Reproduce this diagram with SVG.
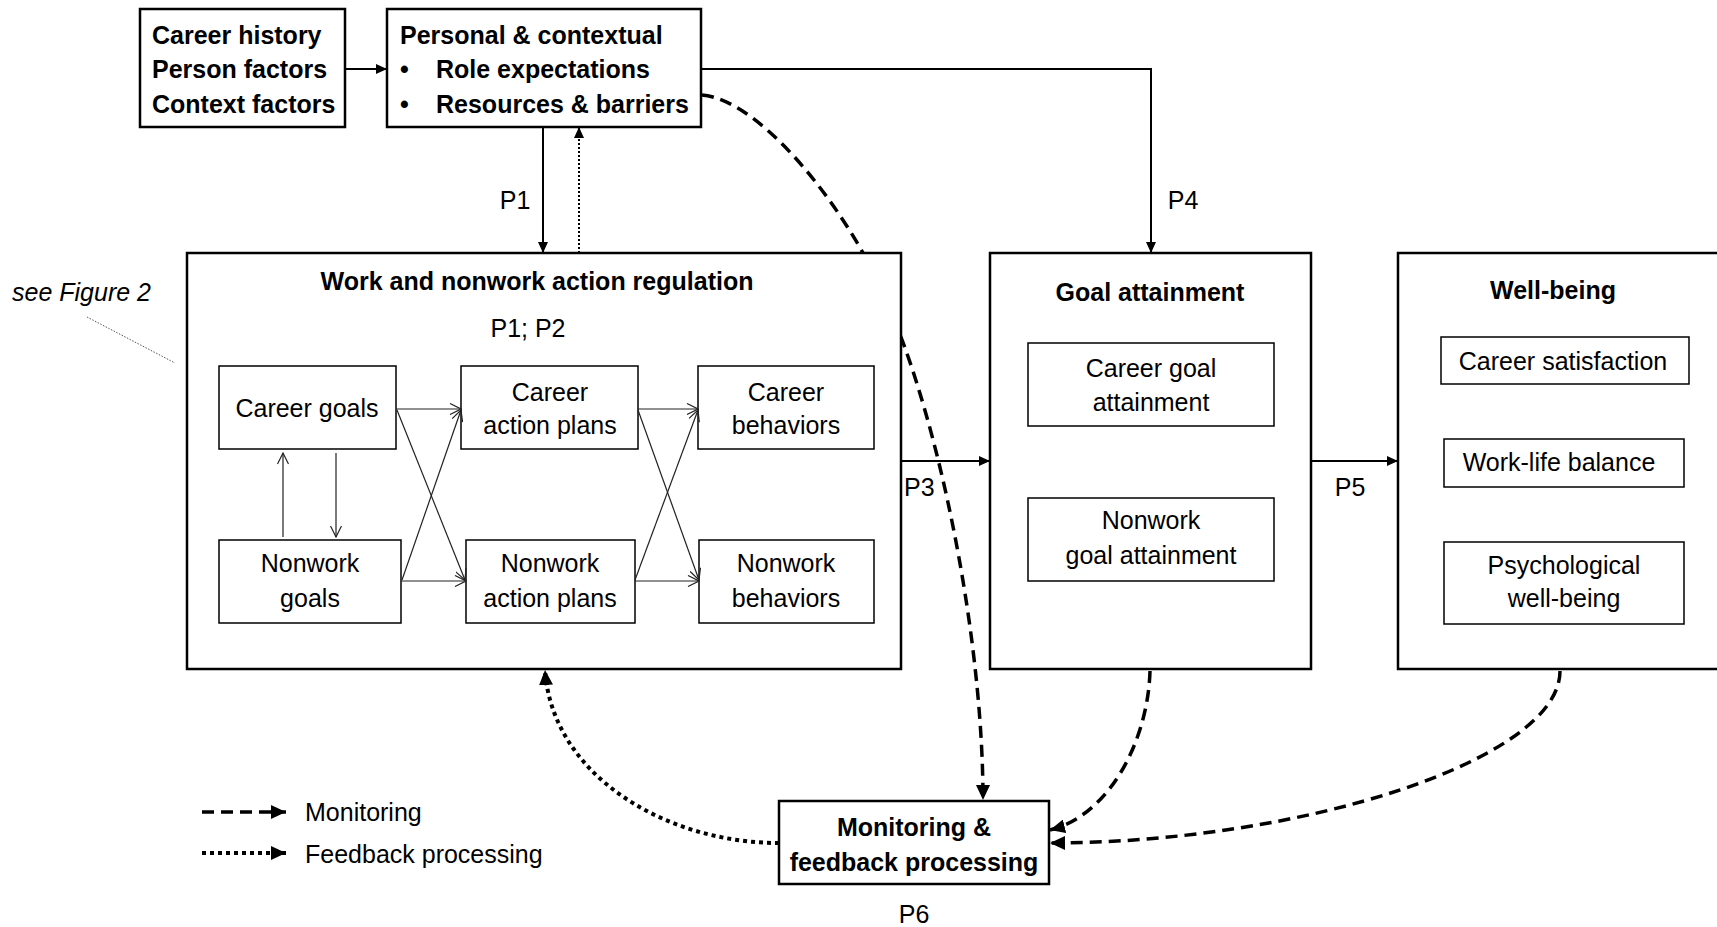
<svg xmlns="http://www.w3.org/2000/svg" width="1717" height="927" viewBox="0 0 1717 927">
<defs>
<style>
text{font-family:"Liberation Sans",Arial,sans-serif;font-size:25px;fill:#000}
.b{font-weight:bold}
.m{text-anchor:middle}
.box{fill:#fff;stroke:#000;stroke-width:2.5}
.in{fill:#fff;stroke:#000;stroke-width:1.5}
.c{fill:none;stroke:#000;stroke-width:2}
.t{fill:none;stroke:#222;stroke-width:1.2}
.dash{fill:none;stroke:#000;stroke-width:3.5;stroke-dasharray:12 7}
.dot{fill:none;stroke:#000;stroke-width:4;stroke-dasharray:4 4}
</style>
<marker id="ah" markerUnits="userSpaceOnUse" markerWidth="12" markerHeight="10" refX="11" refY="5" orient="auto"><path d="M0,0 L11,5 L0,10 z" fill="#000"/></marker>
<marker id="ahb" markerUnits="userSpaceOnUse" markerWidth="16" markerHeight="14" refX="15" refY="7" orient="auto"><path d="M0,0 L15,7 L0,14 z" fill="#000"/></marker>
<marker id="ov" markerUnits="userSpaceOnUse" markerWidth="13" markerHeight="12" refX="12" refY="6" orient="auto"><path d="M1,0.5 L12,6 L1,11.5" fill="none" stroke="#222" stroke-width="1.2"/></marker>
</defs>
<rect width="1717" height="927" fill="#fff"/>
<g id="connectors">
<path class="dash" d="M702,95 C765,100 865,228 901,337 C946,457 983,650 983,800" marker-end="url(#ahb)"/>
<path class="c" d="M345,69 L387,69" marker-end="url(#ah)"/>
<path class="c" d="M701,69 L1151,69 L1151,253" marker-end="url(#ah)"/>
<path class="c" d="M543,127 L543,253" marker-end="url(#ah)"/>
<path fill="none" stroke="#000" stroke-width="2" stroke-dasharray="2 2" d="M579,253 L579,127" marker-end="url(#ah)"/>
<path class="c" d="M901,461 L990,461" marker-end="url(#ah)"/>
<path class="c" d="M1311,461 L1398,461" marker-end="url(#ah)"/>
<path class="dash" d="M1150,671 C1148,740 1110,815 1050,830" marker-end="url(#ahb)"/>
<path class="dash" d="M1560,671 C1560,760 1300,843 1050,843" marker-end="url(#ahb)"/>
<path class="dot" d="M779,843 C665,843 552,775 545,670" marker-end="url(#ahb)"/>
<path fill="none" stroke="#555" stroke-width="1" stroke-dasharray="1.5 1.5" d="M87,317 L175,363"/>
</g>
<g id="history">
<rect class="box" x="140" y="9" width="205" height="118"/>
<text class="b" x="152" y="44">Career history</text>
<text class="b" x="152" y="78">Person factors</text>
<text class="b" x="152" y="113">Context factors</text>
</g>
<g id="personal">
<rect class="box" x="387" y="9" width="314" height="118"/>
<text class="b" x="400" y="44">Personal &amp; contextual</text>
<text class="b" x="400" y="78">•</text>
<text class="b" x="436" y="78">Role expectations</text>
<text class="b" x="400" y="113">•</text>
<text class="b" x="436" y="113">Resources &amp; barriers</text>
</g>
<g id="labels">
<text x="515" y="209" class="m">P1</text>
<text x="1183" y="209" class="m">P4</text>
<text x="904" y="496">P3</text>
<text x="1350" y="496" class="m">P5</text>
<text x="914" y="923" class="m">P6</text>
<text x="12" y="301" font-style="italic">see Figure 2</text>
</g>
<g id="regulation">
<rect class="box" x="187" y="253" width="714" height="416"/>
<text class="b m" x="537" y="290">Work and nonwork action regulation</text>
<text class="m" x="528" y="337">P1; P2</text>
<g id="career-goals"><rect class="in" x="219" y="366" width="177" height="83"/><text class="m" x="307" y="417">Career goals</text></g>
<g id="career-plans"><rect class="in" x="461" y="366" width="177" height="83"/><text class="m" x="550" y="401">Career</text><text class="m" x="550" y="434">action plans</text></g>
<g id="career-behaviors"><rect class="in" x="698" y="366" width="176" height="83"/><text class="m" x="786" y="401">Career</text><text class="m" x="786" y="434">behaviors</text></g>
<g id="nonwork-goals"><rect class="in" x="219" y="540" width="182" height="83"/><text class="m" x="310" y="572">Nonwork</text><text class="m" x="310" y="607">goals</text></g>
<g id="nonwork-plans"><rect class="in" x="466" y="540" width="169" height="83"/><text class="m" x="550" y="572">Nonwork</text><text class="m" x="550" y="607">action plans</text></g>
<g id="nonwork-behaviors"><rect class="in" x="699" y="540" width="175" height="83"/><text class="m" x="786" y="572">Nonwork</text><text class="m" x="786" y="607">behaviors</text></g>
<g id="inner-connectors">
<path class="t" d="M396,409 L461,409" marker-end="url(#ov)"/>
<path class="t" d="M401,581 L466,581" marker-end="url(#ov)"/>
<path class="t" d="M397,410 L465,580" marker-end="url(#ov)"/>
<path class="t" d="M402,580 L461,410" marker-end="url(#ov)"/>
<path class="t" d="M638,409 L698,409" marker-end="url(#ov)"/>
<path class="t" d="M635,581 L699,581" marker-end="url(#ov)"/>
<path class="t" d="M638,410 L699,580" marker-end="url(#ov)"/>
<path class="t" d="M635,580 L698,410" marker-end="url(#ov)"/>
<path class="t" d="M283,537 L283,453" marker-end="url(#ov)"/>
<path class="t" d="M336,453 L336,537" marker-end="url(#ov)"/>
</g>
</g>
<g id="goal">
<rect class="box" x="990" y="253" width="321" height="416"/>
<text class="b m" x="1150" y="301">Goal attainment</text>
<rect class="in" x="1028" y="343" width="246" height="83"/>
<text class="m" x="1151" y="377">Career goal</text>
<text class="m" x="1151" y="411">attainment</text>
<rect class="in" x="1028" y="498" width="246" height="83"/>
<text class="m" x="1151" y="529">Nonwork</text>
<text class="m" x="1151" y="564">goal attainment</text>
</g>
<g id="wellbeing">
<rect class="box" x="1398" y="253" width="340" height="416"/>
<text class="b m" x="1553" y="299">Well-being</text>
<rect class="in" x="1441" y="337" width="248" height="47"/>
<text class="m" x="1563" y="370">Career satisfaction</text>
<rect class="in" x="1444" y="439" width="240" height="48"/>
<text class="m" x="1559" y="471">Work-life balance</text>
<rect class="in" x="1444" y="542" width="240" height="82"/>
<text class="m" x="1564" y="574">Psychological</text>
<text class="m" x="1564" y="607">well-being</text>
</g>
<g id="monitoring">
<rect class="box" x="779" y="801" width="270" height="83"/>
<text class="b m" x="914" y="836">Monitoring &amp;</text>
<text class="b m" x="914" y="871">feedback processing</text>
</g>
<g id="legend">
<path class="dash" d="M202,812 L286,812" marker-end="url(#ahb)"/>
<text x="305" y="821">Monitoring</text>
<path class="dot" d="M202,853 L286,853" marker-end="url(#ahb)"/>
<text x="305" y="863">Feedback processing</text>
</g>
</svg>
